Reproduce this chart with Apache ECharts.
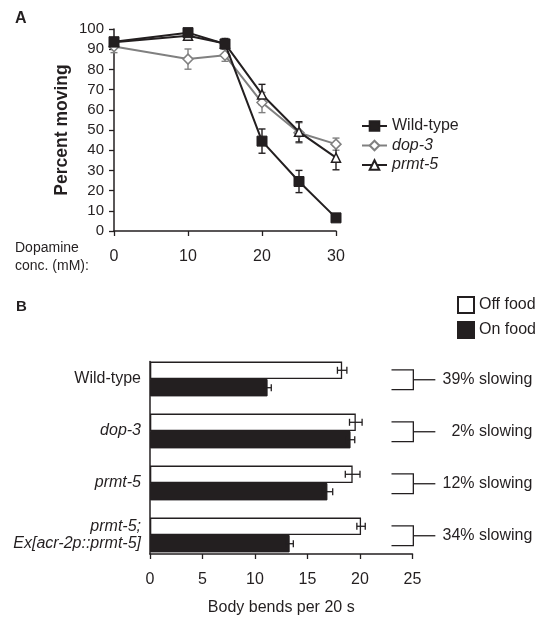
<!DOCTYPE html>
<html>
<head>
<meta charset="utf-8">
<script src="https://cdn.jsdelivr.net/npm/echarts@6/dist/echarts.min.js"></script>
<style>
html,body{margin:0;padding:0;background:#fff;}
#chart{width:545px;height:623px;}
</style>
</head>
<body>
<div id="chart"></div>
<script>
// ---------- Panel A data ----------
var concentrations = [0, 10, 15, 20, 25, 30];
var wildTypeMoving = [93.7, 98.2, 92.6, 44.5, 24.5, 6.5];
var wildTypeErr = [1, 1, 2, 6, 5.5, 1.5];
var dop3Moving = [91.3, 85.1, 87.0, 63.6, 48.6, 43.0];
var dop3Err = [3, 5, 3, 5, 5, 3];
var prmt5Moving = [93.5, 96.7, 92.8, 67.6, 49.1, 36.3];
var prmt5Err = [1.5, 1.5, 2.5, 5, 5, 6];
var xTicksA = [0, 10, 20, 30];

// ---------- Panel B data ----------
var strains = ['Wild-type', 'dop-3', 'prmt-5', 'prmt-5;\nEx[acr-2p::prmt-5]'];
var offFood = [18.3, 19.6, 19.3, 20.1];
var offFoodErr = [0.45, 0.6, 0.7, 0.4];
var onFood = [11.2, 19.1, 16.9, 13.3];
var onFoodErr = [0.35, 0.4, 0.5, 0.35];
var slowingLabels = ['39% slowing', '2% slowing', '12% slowing', '34% slowing'];

var INK = '#231f20';
var GREY = '#808080';
var FONT = '"Liberation Sans", Arial, Helvetica, sans-serif';

function errData(xs, ys, es) {
  return xs.map(function (x, i) { return [x, ys[i], es[i]]; });
}
function vErrSeries(name, xs, ys, es, color) {
  return {
    type: 'custom', name: name + ' err', xAxisIndex: 0, yAxisIndex: 0, z: 1,
    data: errData(xs, ys, es),
    renderItem: function (params, api) {
      var x = api.value(0), y = api.value(1), e = api.value(2);
      var top = api.coord([x, y + e]);
      var bot = api.coord([x, y - e]);
      var cw = 3.5;
      var st = { stroke: color, lineWidth: 1.4 };
      return { type: 'group', children: [
        { type: 'line', shape: { x1: top[0], y1: top[1], x2: bot[0], y2: bot[1] }, style: st },
        { type: 'line', shape: { x1: top[0] - cw, y1: top[1], x2: top[0] + cw, y2: top[1] }, style: st },
        { type: 'line', shape: { x1: bot[0] - cw, y1: bot[1], x2: bot[0] + cw, y2: bot[1] }, style: st }
      ]};
    }
  };
}
function pairs(xs, ys) { return xs.map(function (x, i) { return [x, ys[i]]; }); }

var CAT_GAP = 0.33;
function hErrSeries(name, vals, errs, sign) {
  return {
    type: 'custom', name: name + ' err', xAxisIndex: 1, yAxisIndex: 1, z: 5,
    data: vals.map(function (v, i) { return [v, i, errs[i]]; }),
    renderItem: function (params, api) {
      var v = api.value(0), c = api.value(1), e = api.value(2);
      var band = api.size([0, 1])[1];
      var bw = band * (1 - CAT_GAP) / 2;
      var center = api.coord([v, c]);
      var y = center[1] + sign * bw / 2;
      var l = api.coord([v - e, c])[0];
      var r = api.coord([v + e, c])[0];
      var ch = 3.5;
      var st = { stroke: INK, lineWidth: 1.3 };
      return { type: 'group', children: [
        { type: 'line', shape: { x1: l, y1: y, x2: r, y2: y }, style: st },
        { type: 'line', shape: { x1: l, y1: y - ch, x2: l, y2: y + ch }, style: st },
        { type: 'line', shape: { x1: r, y1: y - ch, x2: r, y2: y + ch }, style: st }
      ]};
    }
  };
}

var chart = echarts.init(document.getElementById('chart'));
var option = {
  backgroundColor: '#fff',
  animation: false,
  textStyle: { fontFamily: FONT, color: INK },
  title: [
    { text: 'A', left: 10, top: 6, textStyle: { fontFamily: FONT, fontSize: 16, fontWeight: 'bold', color: INK } },
    { text: 'B', left: 11, top: 294, textStyle: { fontFamily: FONT, fontSize: 15, fontWeight: 'bold', color: INK } },
    { text: 'Dopamine\nconc. (mM):', left: 10, top: 234, textStyle: { fontFamily: FONT, fontSize: 14, fontWeight: 'normal', color: INK, lineHeight: 18 } }
  ],
  legend: [
    {
      data: ['Wild-type', 'dop-3', 'prmt-5'],
      orient: 'vertical', left: 356, top: 113,
      itemWidth: 25, itemHeight: 12, itemGap: 3.5,
      textStyle: { fontFamily: FONT, fontSize: 16, color: INK,
        rich: { i: { fontFamily: FONT, fontSize: 16, fontStyle: 'italic', color: INK } } },
      formatter: function (n) { return n === 'Wild-type' ? n : '{i|' + n + '}'; }
    },
    {
      data: ['Off food', 'On food'],
      orient: 'vertical', left: 452, top: 291,
      itemWidth: 16, itemHeight: 16, itemGap: 7, icon: 'rect',
      textStyle: { fontFamily: FONT, fontSize: 16, color: INK }
    }
  ],
  grid: [
    { left: 114, top: 29, width: 222, height: 202 },
    { left: 150, top: 353, width: 262.5, height: 208 },
    { left: 150, top: 361.5, width: 262.5, height: 192.5 }
  ],
  xAxis: [
    {
      gridIndex: 0, type: 'value', min: 0, max: 30, interval: 10,
      axisLine: { lineStyle: { color: INK, width: 1.5 } },
      axisTick: { show: true, length: 5, lineStyle: { color: INK, width: 1.3 } },
      axisLabel: { fontSize: 16, color: INK, margin: 18, fontFamily: FONT,
        customValues: xTicksA },
      splitLine: { show: false }
    },
    { gridIndex: 1, type: 'value', min: 0, max: 25, show: false },
    {
      gridIndex: 2, type: 'value', min: 0, max: 25, interval: 5,
      axisLine: { lineStyle: { color: INK, width: 1.5 } },
      axisTick: { show: true, length: 5, lineStyle: { color: INK, width: 1.3 } },
      axisLabel: { fontSize: 16, color: INK, margin: 18, fontFamily: FONT },
      splitLine: { show: false },
      name: 'Body bends per 20 s', nameLocation: 'middle', nameGap: 46,
      nameTextStyle: { fontSize: 16, color: INK, fontFamily: FONT }
    }
  ],
  yAxis: [
    {
      gridIndex: 0, type: 'value', min: 0, max: 100, interval: 10,
      axisLine: { show: true, lineStyle: { color: INK, width: 1.5 } },
      axisTick: { show: true, length: 5, lineStyle: { color: INK, width: 1.3 } },
      axisLabel: { fontSize: 15, color: INK, margin: 10, fontFamily: FONT },
      splitLine: { show: false },
      name: 'Percent moving', nameLocation: 'middle', nameGap: 43,
      nameTextStyle: { fontSize: 17.5, fontWeight: 'bold', color: INK, fontFamily: FONT }
    },
    {
      gridIndex: 1, type: 'category', data: strains, inverse: true,
      axisLine: { show: false }, axisTick: { show: false },
      axisLabel: {
        margin: 9, fontSize: 16, color: INK, fontFamily: FONT, lineHeight: 17.5,
        formatter: function (v) {
          if (v === 'Wild-type') return v;
          return v.split('\n').map(function (s) { return '{i|' + s + '}'; }).join('\n');
        },
        rich: { i: { fontSize: 16, fontStyle: 'italic', color: INK, fontFamily: FONT, lineHeight: 17.5 } }
      }
    },
    {
      gridIndex: 2, type: 'value', min: 0, max: 1,
      axisLine: { show: true, lineStyle: { color: INK, width: 1.5 } },
      axisTick: { show: false }, axisLabel: { show: false }, splitLine: { show: false }
    }
  ],
  series: [
    vErrSeries('dop-3', concentrations, dop3Moving, dop3Err, GREY),
    vErrSeries('prmt-5', concentrations, prmt5Moving, prmt5Err, INK),
    vErrSeries('Wild-type', concentrations, wildTypeMoving, wildTypeErr, INK),
    {
      name: 'dop-3', type: 'line', xAxisIndex: 0, yAxisIndex: 0, z: 2,
      data: pairs(concentrations, dop3Moving),
      symbol: 'diamond', symbolSize: 10,
      lineStyle: { color: GREY, width: 2 },
      itemStyle: { color: '#fff', borderColor: GREY, borderWidth: 1.5 }
    },
    {
      name: 'prmt-5', type: 'line', xAxisIndex: 0, yAxisIndex: 0, z: 3,
      data: pairs(concentrations, prmt5Moving),
      symbol: 'triangle', symbolSize: 9,
      lineStyle: { color: INK, width: 2 },
      itemStyle: { color: '#fff', borderColor: INK, borderWidth: 1.5 }
    },
    {
      name: 'Wild-type', type: 'line', xAxisIndex: 0, yAxisIndex: 0, z: 4,
      data: pairs(concentrations, wildTypeMoving),
      symbol: 'rect', symbolSize: 10,
      lineStyle: { color: INK, width: 2 },
      itemStyle: { color: INK, borderColor: INK, borderWidth: 1 }
    },
    {
      name: 'Off food', type: 'bar', xAxisIndex: 1, yAxisIndex: 1,
      data: offFood, barGap: 0, barCategoryGap: (CAT_GAP * 100) + '%',
      itemStyle: { color: '#fff', borderColor: INK, borderWidth: 1.3 }
    },
    {
      name: 'On food', type: 'bar', xAxisIndex: 1, yAxisIndex: 1,
      data: onFood, barGap: 0, barCategoryGap: (CAT_GAP * 100) + '%',
      itemStyle: { color: INK, borderColor: INK, borderWidth: 1 }
    },
    hErrSeries('Off food', offFood, offFoodErr, -1),
    hErrSeries('On food', onFood, onFoodErr, 1),
    {
      type: 'custom', name: 'slowing', xAxisIndex: 1, yAxisIndex: 1, z: 5, clip: false,
      data: slowingLabels.map(function (s, i) { return [i, s]; }),
      renderItem: function (params, api) {
        var c = api.value(0);
        var label = slowingLabels[params.dataIndex];
        var band = api.size([0, 1])[1];
        var bw = band * (1 - CAT_GAP) / 2;
        var yc = api.coord([0, c])[1];
        var y1 = yc - bw / 2 - 0.5, y2 = yc + bw / 2 + 2;
        var xl = api.coord([23.0, c])[0];
        var xr = api.coord([25.08, c])[0];
        var ym = (y1 + y2) / 2;
        var st = { stroke: INK, lineWidth: 1.3, fill: null };
        return { type: 'group', children: [
          { type: 'polyline', shape: { points: [[xl, y1], [xr, y1], [xr, y2], [xl, y2]] }, style: st },
          { type: 'line', shape: { x1: xr, y1: ym, x2: xr + 22, y2: ym }, style: st },
          { type: 'text', style: { x: xr + 119, y: ym, text: label, textAlign: 'right', textVerticalAlign: 'middle',
            font: '16px ' + FONT, fill: INK } }
        ]};
      }
    }
  ]
};
chart.setOption(option);
</script>
</body>
</html>
